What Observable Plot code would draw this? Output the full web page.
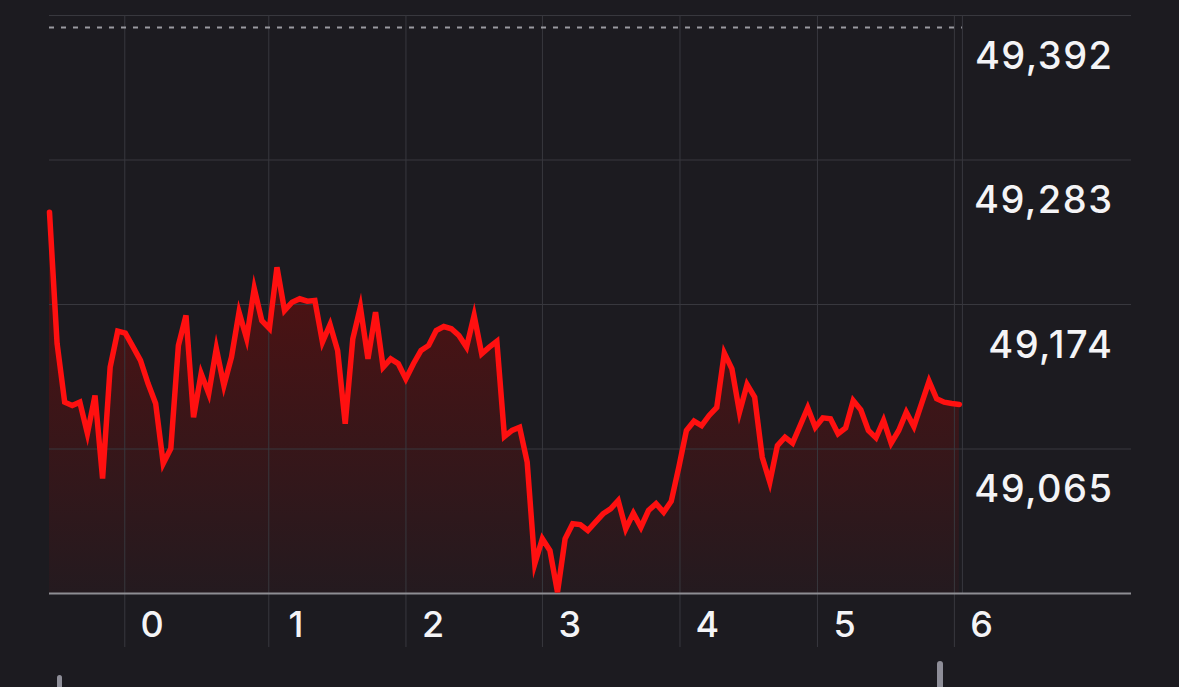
<!DOCTYPE html>
<html>
<head>
<meta charset="utf-8">
<script src="https://cdn.jsdelivr.net/npm/d3@7"></script>
<script src="https://cdn.jsdelivr.net/npm/@observablehq/plot@0.6"></script>
<style>
  html, body { margin: 0; padding: 0; background: #1c1b20; overflow: hidden; }
  #wrap { position: relative; width: 1179px; height: 687px; }
  .handle { position: absolute; background: #8e8e98; border-radius: 3px; }
</style>
</head>
<body>
<div id="wrap"></div>
<script>
// Index values (one point per sample)
const values = [
  49243.6, 49144.6, 49100.3, 49097.8, 49100.3, 49076.7, 49105.4, 49042.7, 49126.7, 49153.9,
  49152.4, 49142.3, 49131.8, 49114.4, 49099.3, 49054.1, 49065.4, 49143.1, 49165.7, 49089.0,
  49121.9, 49106.9, 49140.8, 49112.9, 49134.2, 49168.2, 49148.4, 49186.1, 49161.9, 49155.9,
  49202.1, 49169.5, 49175.7, 49178.3, 49176.5, 49177.0, 49145.6, 49158.9, 49139.3, 49084.0,
  49148.1, 49172.0, 49133.0, 49168.2, 49126.7, 49133.0, 49129.3, 49117.9, 49129.3, 49139.3,
  49143.1, 49154.4, 49157.4, 49155.7, 49150.6, 49141.8, 49165.7, 49136.8, 49141.8, 49146.3,
  49074.4, 49079.0, 49081.4, 49055.0, 48978.4, 48997.3, 48988.4, 48957.0, 48997.3, 49008.6,
  49008.0, 49003.5, 49009.8, 49016.1, 49019.9, 49026.1, 49004.8, 49016.6, 49006.0, 49018.6,
  49023.7, 49017.3, 49025.6, 49051.3, 49079.0, 49086.0, 49082.7, 49090.3, 49096.3, 49137.3,
  49125.5, 49092.8, 49113.7, 49104.1, 49058.8, 49040.0, 49067.6, 49073.9, 49069.4, 49082.7,
  49096.1, 49081.4, 49088.5, 49087.8, 49076.5, 49081.0, 49101.6, 49094.6, 49079.0, 49073.4,
  49086.5, 49069.4, 49079.0, 49092.8, 49082.0, 49099.1, 49116.1, 49102.9, 49100.3, 49099.3,
  49098.6
];

// x ticks (sample-index positions) and their labels
const xTickPos = [9.93, 28.92, 47.01, 65.01, 83.15, 101.28, 119.34];
const xTickLabels = ["0", "1", "2", "3", "4", "5", "6"];

// y ticks and labels
const yTicks = [49065, 49174, 49283, 49392];
const yTickLabels = ["49,065", "49,174", "49,283", "49,392"];
const yMin = 48956;
const yMax = 49392;

// reference (previous close) level and "now" marker
const prevClose = 49383;
const nowX = 120.4;
const xMax = 142.7;

const data = values.map((v, i) => ({i, v}));

const gridColor = "#38383e";

const chart = Plot.plot({
  width: 1179,
  height: 687,
  marginLeft: 49,
  marginRight: 48,
  marginTop: 15,
  marginBottom: 94,
  x: {domain: [0, xMax], axis: null},
  y: {domain: [yMin, yMax], axis: null},
  style: {background: "#1c1b20", fontFamily: "Inter, 'Noto Sans', sans-serif"},
  marks: [
    Plot.areaY(data, {x: "i", y1: yMin, y2: "v", fill: "url(#redfade)"}),
    Plot.ruleY(yTicks, {stroke: gridColor, strokeWidth: 1}),
    Plot.ruleX(xTickPos, {stroke: gridColor, strokeWidth: 1, insetBottom: -54}),
    Plot.ruleX([nowX], {stroke: gridColor, strokeWidth: 1}),
    Plot.ruleY([prevClose], {x1: 0, x2: nowX, stroke: "#9a9aa0", strokeWidth: 2, strokeDasharray: "5,7"}),
    Plot.ruleY([yMin], {stroke: "#8e8e93", strokeWidth: 2}),
    Plot.line(data, {x: "i", y: "v", stroke: "#ff1010", strokeWidth: 5.5, strokeLinejoin: "miter", strokeMiterlimit: 6}),
    Plot.text(yTicks, {
      y: d => d, text: (d, i) => yTickLabels[i],
      frameAnchor: "right", textAnchor: "end", dx: -18, dy: 41,
      fill: "#f4f4f6", fontSize: 38, fontWeight: 500, lineAnchor: "middle"
    }),
    Plot.text(xTickPos, {
      x: d => d, text: (d, i) => xTickLabels[i],
      frameAnchor: "bottom", dx: 28, dy: 31.5,
      fill: "#f4f4f6", fontSize: 36, fontWeight: 500, lineAnchor: "middle"
    })
  ]
});

// gradient for the area fill
const defs = d3.select(chart).insert("defs", ":first-child");
const grad = defs.append("linearGradient")
  .attr("id", "redfade").attr("x1", 0).attr("y1", 0).attr("x2", 0).attr("y2", 1);
grad.append("stop").attr("offset", "0%").attr("stop-color", "#561010");
grad.append("stop").attr("offset", "100%").attr("stop-color", "#241a1f");

d3.select(chart).selectAll("text").style("letter-spacing", "1.5px");

const wrap = document.getElementById("wrap");
wrap.appendChild(chart);

// scrubber handles below the chart
const h1 = document.createElement("div");
h1.className = "handle";
Object.assign(h1.style, {left: "57px", top: "675px", width: "5px", height: "16px"});
const h2 = document.createElement("div");
h2.className = "handle";
Object.assign(h2.style, {left: "937px", top: "661px", width: "6px", height: "30px"});
wrap.appendChild(h1);
wrap.appendChild(h2);
</script>
</body>
</html>
